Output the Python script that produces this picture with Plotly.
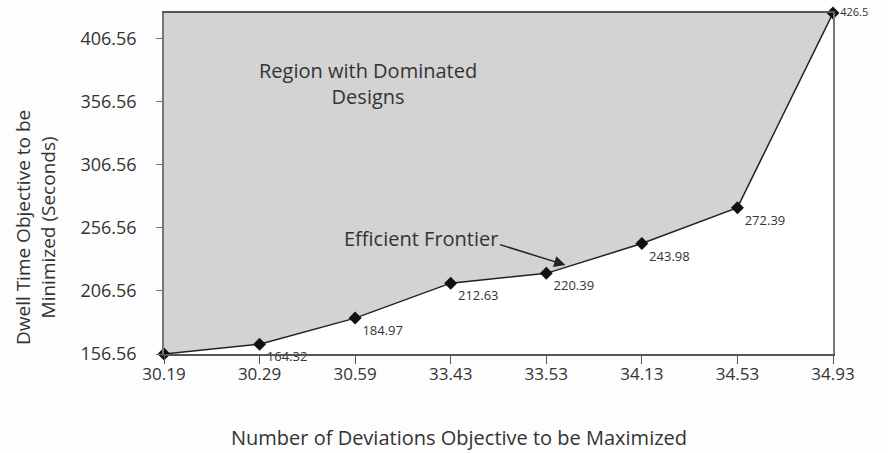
import plotly.graph_objects as go

categories = ["30.19", "30.29", "30.59", "33.43", "33.53", "34.13", "34.53", "34.93"]
dwell_time = [156.56, 164.32, 184.97, 212.63, 220.39, 243.98, 272.39, 426.5]
point_labels = ["", "164.32", "184.97", "212.63", "220.39", "243.98", "272.39", "426.5"]
y_ticks = [156.56, 206.56, 256.56, 306.56, 356.56, 406.56]

FONT = "Open Sans"
TXT = "#333333"
top_val = max(dwell_time)

fig = go.Figure()
# upper boundary for the dominated region
fig.add_trace(go.Scatter(
    x=categories, y=[top_val] * len(categories), mode="lines",
    line=dict(width=0, color="rgba(0,0,0,0)"), hoverinfo="skip", showlegend=False))
# efficient frontier
fig.add_trace(go.Scatter(
    x=categories, y=dwell_time, mode="lines+markers+text",
    fill="tonexty", fillcolor="#d3d3d3",
    line=dict(color="#222222", width=1.5),
    marker=dict(symbol="diamond", size=10, color="#111111"),
    text=point_labels,
    textposition=["bottom right"] * 7 + ["middle right"],
    textfont=dict(family=FONT, size=[13] * 7 + [11], color=TXT),
    cliponaxis=False, showlegend=False))

fig.update_layout(
    width=888, height=453,
    margin=dict(l=164, r=55, t=13, b=99),
    paper_bgcolor="#fdfdfd", plot_bgcolor="#ffffff",
    font=dict(family=FONT, size=17, color=TXT),
    xaxis=dict(
        type="category", range=[0, len(categories) - 1],
        showgrid=False, zeroline=False,
        showline=True, linecolor="#555555", linewidth=1.5, mirror=True,
        ticks="outside", ticklen=8, tickcolor="#555555",
        ticklabelstandoff=-4,
        tickfont=dict(family=FONT, size=17, color=TXT),
    ),
    yaxis=dict(
        range=[156.56, top_val], tickvals=y_ticks,
        ticktext=[f"{v:.2f}" for v in y_ticks],
        showgrid=False, zeroline=False,
        showline=True, linecolor="#777777", linewidth=1.5, mirror=True,
        ticks="outside", ticklen=6, tickcolor="#777777",
        ticklabelstandoff=16,
        tickfont=dict(family=FONT, size=18, color=TXT),
    ),
    annotations=[
        # axis titles
        dict(x=0.441, y=-0.246, xref="paper", yref="paper",
             text="Number of Deviations Objective to be Maximized", showarrow=False,
             xanchor="center", yanchor="middle",
             font=dict(family=FONT, size=20, color=TXT)),
        dict(x=-0.191, y=0.37, xref="paper", yref="paper", textangle=-90,
             text="Dwell Time Objective to be<br>Minimized (Seconds)", showarrow=False,
             xanchor="center", yanchor="middle",
             font=dict(family=FONT, size=19, color=TXT)),
        # in-plot texts
        dict(x=2.13, y=371, xref="x", yref="y",
             text="Region with Dominated<br>Designs", showarrow=False,
             font=dict(family=FONT, size=20, color=TXT)),
        dict(x=2.69, y=248.3, xref="x", yref="y",
             text="Efficient Frontier", showarrow=False,
             font=dict(family=FONT, size=20, color=TXT)),
        dict(x=4.2, y=227, xref="x", yref="y",
             ax=3.5, ay=243.5, axref="x", ayref="y",
             text="", showarrow=True,
             arrowhead=2, arrowsize=1.5, arrowwidth=1.5, arrowcolor="#222222"),
    ],
)

fig.write_html("out.html",
               config={"displayModeBar": False},
               post_script="document.body.style.margin='0';document.body.style.overflow='hidden';")
